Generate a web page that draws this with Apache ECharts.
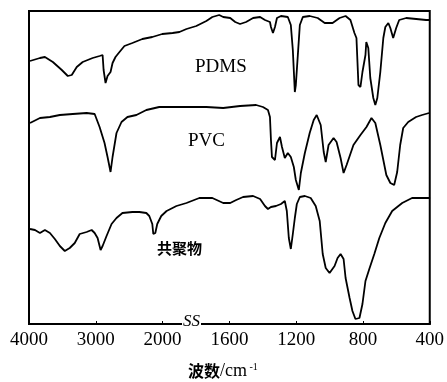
<!DOCTYPE html>
<html>
<head>
<meta charset="utf-8">
<script src="https://cdn.jsdelivr.net/npm/echarts@6/dist/echarts.min.js"></script>
<style>html,body{margin:0;padding:0;background:#fff}#c{width:447px;height:382px}</style>
</head>
<body>
<div id="c"></div>
<script>
// Tick labels of the (broken) wavenumber axis, cm^-1
var tickLabels = ['4000', '3000', '2000', '1600', '1200', '800', '400'];
// Series: [wavenumber cm^-1, relative transmittance (offset, arbitrary units)]
var pdms = [[3985,263],[3836,266],[3762,267],[3643,262],[3509,254],[3419,248],[3360,249],[3285,257],[3196,262],[3047,266],[2943,268],[2898,269],[2883,254],[2854,241],[2824,248],[2779,252],[2749,261],[2705,267],[2645,272],[2571,278],[2452,281],[2303,285],[2154,287],[2005,290],[1940,291],[1899,292],[1857,295],[1798,298],[1738,303],[1702,307],[1661,309],[1637,307],[1595,306],[1565,302],[1536,300],[1500,302],[1458,306],[1416,307],[1387,304],[1357,302],[1351,297],[1339,291],[1327,297],[1315,306],[1291,308],[1250,307],[1232,299],[1220,274],[1208,232],[1202,239],[1190,269],[1178,299],[1160,307],[1119,308],[1071,306],[1029,301],[982,301],[940,306],[904,308],[875,304],[851,291],[839,286],[827,239],[815,237],[803,252],[785,269],[780,282],[768,276],[756,246],[738,226],[726,219],[714,226],[696,252],[678,286],[666,297],[648,301],[636,296],[619,286],[601,296],[583,304],[541,306],[481,305],[422,304],[398,304]];
var pvc = [[3985,201],[3836,206],[3687,207],[3538,209],[3345,210],[3137,211],[3017,210],[2943,197],[2869,181],[2824,167],[2779,152],[2749,167],[2690,191],[2615,202],[2526,207],[2392,209],[2243,214],[2050,217],[1940,217],[1857,217],[1738,217],[1637,216],[1536,218],[1440,219],[1399,217],[1369,214],[1357,207],[1351,184],[1345,167],[1327,164],[1315,181],[1297,187],[1285,177],[1268,166],[1250,171],[1232,167],[1214,157],[1202,144],[1184,134],[1172,151],[1148,171],[1119,191],[1095,204],[1077,209],[1053,199],[1035,172],[1023,162],[1006,179],[976,186],[958,182],[934,166],[916,151],[898,159],[857,179],[815,189],[779,197],[749,206],[726,201],[696,179],[660,149],[636,141],[613,139],[595,152],[577,179],[559,196],[529,202],[482,207],[446,209],[404,211]];
var copolymer = [[3985,95],[3911,94],[3836,91],[3762,94],[3687,91],[3613,85],[3538,78],[3464,73],[3390,76],[3315,81],[3241,90],[3137,92],[3062,94],[3017,91],[2973,86],[2928,74],[2898,78],[2839,88],[2764,100],[2690,106],[2601,111],[2452,112],[2347,112],[2243,111],[2199,108],[2154,100],[2139,90],[2109,91],[2080,100],[2020,108],[1976,113],[1917,118],[1857,121],[1780,126],[1702,126],[1637,121],[1595,121],[1559,124],[1518,127],[1458,128],[1416,125],[1387,118],[1369,115],[1351,117],[1321,118],[1291,120],[1268,123],[1256,113],[1244,86],[1232,75],[1220,90],[1208,106],[1196,120],[1178,127],[1148,128],[1113,126],[1083,118],[1059,103],[1041,70],[1023,56],[1000,51],[970,58],[952,66],[934,70],[916,65],[904,46],[880,26],[863,13],[845,5],[821,6],[803,20],[785,43],[762,55],[732,70],[702,86],[666,101],[625,113],[565,121],[506,126],[446,126],[398,126]];
var seriesNames = ['PDMS', 'PVC', '共聚物'];

// Broken axis: 4000-2000 at 1000 cm^-1 per division, 2000-400 at 400 cm^-1 per division
function pos(wn) { return wn >= 2000 ? (4000 - wn) / 1000 : 2 + (2000 - wn) / 400; }
function conv(arr) { return arr.map(function (p) { return [pos(p[0]), p[1]]; }); }

var chart = echarts.init(document.getElementById('c'), null, {renderer: 'canvas'});
var lineStyle = {color: '#000', width: 1.8};
chart.setOption({
  animation: false,
  backgroundColor: '#fff',
  grid: {left: 29, right: 15, top: 11, bottom: 58, show: true, borderColor: '#000', borderWidth: 2, backgroundColor: 'transparent'},
  xAxis: {
    type: 'value', min: 0, max: 6, interval: 1,
    axisLine: {show: true, lineStyle: {color: '#000', width: 2}},
    axisTick: {show: true, inside: true, length: 3, lineStyle: {color: '#000', width: 1}},
    splitLine: {show: false},
    axisLabel: {
      color: '#000', fontFamily: 'Liberation Serif', fontSize: 19, margin: 7,
      formatter: function (v) { return tickLabels[Math.round(v)]; }
    }
  },
  yAxis: {type: 'value', min: 0, max: 313, show: false},
  series: [
    {name: seriesNames[0], type: 'line', data: conv(pdms), showSymbol: false, lineStyle: lineStyle},
    {name: seriesNames[1], type: 'line', data: conv(pvc), showSymbol: false, lineStyle: lineStyle},
    {name: seriesNames[2], type: 'line', data: conv(copolymer), showSymbol: false, lineStyle: lineStyle}
  ],
  graphic: [
    {type: 'text', left: 195, top: 58, style: {text: seriesNames[0], font: '19px "Liberation Serif"', fill: '#000'}},
    {type: 'text', left: 188, top: 132, style: {text: seriesNames[1], font: '19px "Liberation Serif"', fill: '#000'}},
    {type: 'text', left: 157, top: 241, style: {text: seriesNames[2], font: 'bold 15px "Noto Sans CJK SC"', fill: '#000'}},
    {type: 'text', left: 182, top: 313, z: 100, style: {text: 'SS', font: 'italic 17px "Liberation Serif"', fill: '#000', backgroundColor: '#fff', padding: [0, 1, 0, 1]}},
    {type: 'text', left: 188, top: 362, style: {
      text: '{a|波数}{b|/cm}{c| -1}',
      rich: {
        a: {font: 'bold 16px "Noto Sans CJK SC"', fill: '#000'},
        b: {font: '18px "Liberation Serif"', fill: '#000'},
        c: {font: '10px "Liberation Serif"', fill: '#000', verticalAlign: 'top', padding: [0,0,8,0]}
      }
    }}
  ]
});
</script>
</body>
</html>
